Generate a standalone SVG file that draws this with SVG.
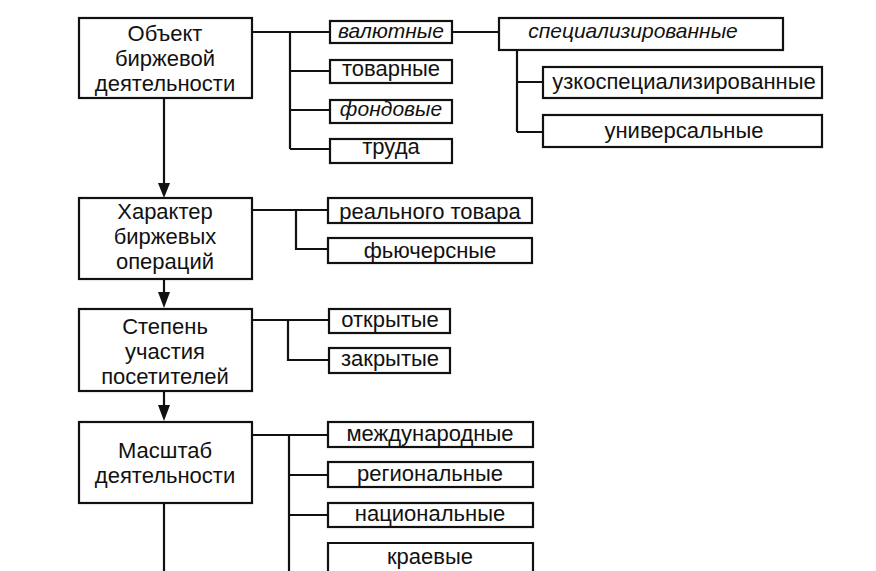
<svg xmlns="http://www.w3.org/2000/svg" width="876" height="571" viewBox="0 0 876 571">
<defs>
<style>
.box{fill:#fff;stroke:#111;stroke-width:2.2}
.ln{fill:none;stroke:#111;stroke-width:2.2}
text{font-family:"Liberation Sans",Arial,sans-serif;font-size:22px;fill:#111;text-anchor:middle}
.it{font-style:italic;font-size:21px}
.ar{fill:#111}
</style>
</defs>
<rect width="876" height="571" fill="#fff"/>
<g id="connectors">
<path class="ln" d="M164,98 V190"/>
<path class="ln" d="M164,279 V300"/>
<path class="ln" d="M164,391 V414"/>
<path class="ar" d="M158,183 L170,183 L164,198 Z"/>
<path class="ar" d="M158,292 L170,292 L164,308 Z"/>
<path class="ar" d="M158,405 L170,405 L164,421 Z"/>
<path class="ln" d="M164,503 V571"/>
<path class="ln" d="M252,32 H330 M290,32 V149 M290,71 H330 M290,110 H330 M290,149 H330"/>
<path class="ln" d="M452,32 H499 M517,50 V132 M517,82 H543 M517,132 H543"/>
<path class="ln" d="M252,210 H328 M296,210 V249 H328"/>
<path class="ln" d="M252,320 H329 M288,320 V360 H329"/>
<path class="ln" d="M252,435 H328 M289,435 V571 M289,475 H328 M289,515 H328"/>
</g>
<g id="n1"><rect class="box" x="79" y="18" width="173" height="80"/>
<text x="165" y="41">Объект</text><text x="165" y="66">биржевой</text><text x="165" y="91">деятельности</text></g>
<g id="n2"><rect class="box" x="79" y="198" width="173" height="81"/>
<text x="165" y="219">Характер</text><text x="165" y="244">биржевых</text><text x="165" y="269">операций</text></g>
<g id="n3"><rect class="box" x="79" y="309" width="173" height="82"/>
<text x="165" y="334">Степень</text><text x="165" y="359">участия</text><text x="165" y="384">посетителей</text></g>
<g id="n4"><rect class="box" x="79" y="422" width="173" height="81"/>
<text x="165" y="458">Масштаб</text><text x="165" y="483">деятельности</text></g>
<g id="b-val"><rect class="box" x="330" y="21" width="122" height="22"/><text class="it" x="391" y="38">валютные</text></g>
<g id="b-tov"><rect class="box" x="330" y="60" width="122" height="23"/><text x="391" y="76">товарные</text></g>
<g id="b-fond"><rect class="box" x="330" y="100" width="122" height="23"/><text class="it" x="391" y="116">фондовые</text></g>
<g id="b-trud"><rect class="box" x="330" y="139" width="122" height="24"/><text x="391" y="154">труда</text></g>
<g id="b-spec"><rect class="box" x="499" y="18" width="284" height="32"/><text class="it" x="633" y="38">специализированные</text></g>
<g id="b-uzko"><rect class="box" x="543" y="67" width="279" height="31"/><text x="684" y="89">узкоспециализированные</text></g>
<g id="b-univ"><rect class="box" x="543" y="115" width="279" height="32"/><text x="684" y="138">универсальные</text></g>
<g id="b-real"><rect class="box" x="328" y="198" width="204" height="25"/><text x="430" y="219">реального товара</text></g>
<g id="b-fut"><rect class="box" x="328" y="238" width="204" height="25"/><text x="430" y="258">фьючерсные</text></g>
<g id="b-otk"><rect class="box" x="329" y="309" width="121" height="24"/><text x="390" y="327">открытые</text></g>
<g id="b-zak"><rect class="box" x="329" y="348" width="121" height="25"/><text x="390" y="366">закрытые</text></g>
<g id="b-mezh"><rect class="box" x="328" y="422" width="205" height="25"/><text x="430" y="441">международные</text></g>
<g id="b-reg"><rect class="box" x="328" y="462" width="205" height="25"/><text x="430" y="481">региональные</text></g>
<g id="b-nac"><rect class="box" x="328" y="503" width="205" height="24"/><text x="430" y="521">национальные</text></g>
<g id="b-kra"><path class="box" d="M328,574 V543 H533 V574"/><text x="430" y="564">краевые</text></g>
</svg>
